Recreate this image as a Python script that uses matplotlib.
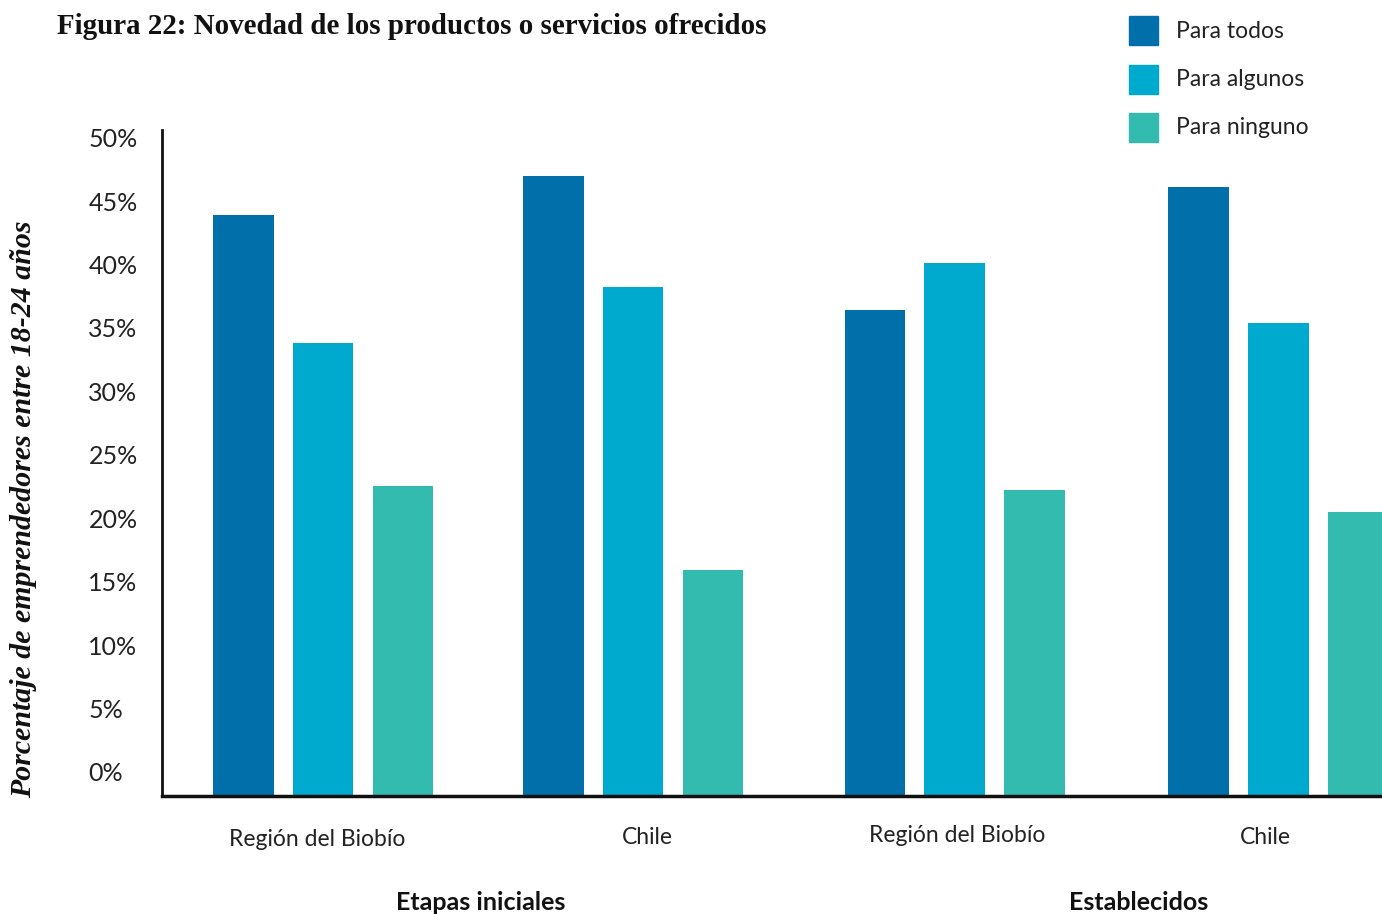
import matplotlib.pyplot as plt
from matplotlib.patches import Rectangle
import numpy as np

# datos (porcentaje)
categorias = ["Región del Biobío", "Chile", "Región del Biobío", "Chile"]
etapas = ["Etapas iniciales", "Establecidos"]
series = ["Para todos", "Para algunos", "Para ninguno"]
para_todos = [43.9, 47.0, 36.4, 46.1]
para_algunos = [33.8, 38.2, 40.1, 35.4]
para_ninguno = [22.5, 15.9, 22.2, 20.5]
yticks = [0, 5, 10, 15, 20, 25, 30, 35, 40, 45, 50]

colores = ["#006FAA", "#00AACE", "#33BBB0"]
sans = "Lato"
serif = "Liberation Serif"
W, H = 1382, 914

fig = plt.figure(figsize=(W / 100, H / 100), dpi=100)
# ejes: izquierda 162px, abajo 796px, arriba 130px, hasta el borde derecho
ax = fig.add_axes([162 / W, (H - 796) / H, (W - 162) / W, (796 - 130) / H])

ymin, ymax = -1.9, 50.6
x = np.array([0, 0.972, 1.98, 2.995])  # centros de grupo
ancho = 0.19
paso = 0.25
for i, vals in enumerate([para_todos, para_algunos, para_ninguno]):
    # las barras arrancan desde la base del eje, como en el original
    ax.bar(x + (i - 1) * paso, np.array(vals) - ymin, bottom=ymin, width=ancho,
           color=colores[i], label=series[i], zorder=2)

ax.set_xlim(-0.505, 3.32)
ax.set_ylim(ymin, ymax)

for s in ["top", "right"]:
    ax.spines[s].set_visible(False)
ax.spines["left"].set_linewidth(2)
ax.spines["bottom"].set_linewidth(2.5)
ax.spines["left"].set_color("#111111")
ax.spines["bottom"].set_color("#111111")

ax.set_yticks(yticks)
ax.set_yticklabels([f"{v}%" for v in yticks], fontsize=18, family=sans, color="#222222", ha="left")
ax.tick_params(axis="y", length=0, pad=53)
ax.set_xticks([])

# etiquetas de categoria, algo desplazadas respecto a las barras como en el original
label_x = [317, 647, 957, 1265]
label_y = [840, 837, 836, 837]
for cat, lx, ly in zip(categorias, label_x, label_y):
    fig.text(lx / W, 1 - ly / H, cat, ha="center", va="center",
             fontsize=16.5, family=sans, color="#222222")

# etiquetas de etapa
fig.text(481 / W, 1 - 903 / H, etapas[0], ha="center", va="center",
         fontsize=18, family=sans, fontweight="bold", color="#111111")
fig.text(1139 / W, 1 - 903 / H, etapas[1], ha="center", va="center",
         fontsize=18, family=sans, fontweight="bold", color="#111111")

fig.text(57 / W, 1 - 26 / H, "Figura 22: Novedad de los productos o servicios ofrecidos",
         ha="left", va="center", fontsize=20.9, family=serif, fontweight="bold", color="#111111")
fig.text(24 / W, 1 - 509 / H, "Porcentaje de emprendedores entre 18-24 años",
         ha="center", va="center", rotation=90, fontsize=21.5, family=serif,
         fontweight="bold", fontstyle="italic", color="#111111")

# leyenda dibujada a mano
for i, nombre in enumerate(series):
    top = 16 + i * 48.5
    fig.add_artist(Rectangle((1129 / W, 1 - (top + 29) / H), 29 / W, 29 / H,
                             transform=fig.transFigure, color=colores[i]))
    fig.text(1176 / W, 1 - (top + 15) / H, nombre, ha="left", va="center",
             fontsize=16.5, family=sans, color="#222222")

fig.savefig("out.png", dpi=100)
